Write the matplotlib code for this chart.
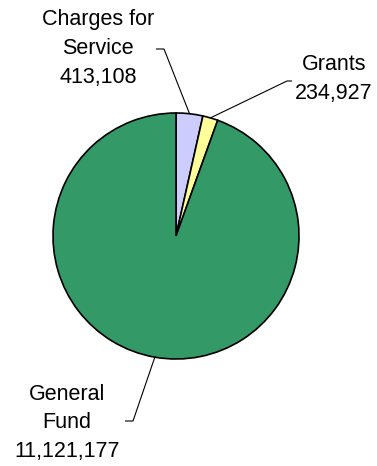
import numpy as np
import matplotlib.pyplot as plt

labels = ['Charges for\nService', 'Grants', 'General\nFund']
values = [413108, 234927, 11121177]
colors = ['#CCCCFF', '#FFFF99', '#339966']

# layout in pixels (y measured from top of image)
W, H = 377, 466
cx, cy, r = 176, 236, 123
elbows = [(164, 49), (287, 81), (133, 421)]
ends = [(156, 49), (292, 81), (125, 421)]
text_pos = [(98, 48), (334, 79), (67, 423)]


def main():
    plt.rcParams['font.family'] = ['Liberation Sans', 'DejaVu Sans']
    fig = plt.figure(figsize=(W / 100, H / 100), dpi=100)
    ax = fig.add_axes([0, 0, 1, 1])
    ax.set_xlim(0, W)
    ax.set_ylim(0, H)
    ax.axis('off')

    wedges, _ = ax.pie(values, colors=colors, startangle=90, counterclock=False,
                       center=(cx, H - cy), radius=r,
                       wedgeprops=dict(edgecolor='black', linewidth=1.2))
    ax.set_xlim(0, W)
    ax.set_ylim(0, H)

    for w, lab, val, el, en, tp in zip(wedges, labels, values, elbows, ends, text_pos):
        mid = np.deg2rad((w.theta1 + w.theta2) / 2)
        x0 = cx + r * np.cos(mid)
        y0 = (H - cy) + r * np.sin(mid)
        ax.plot([x0, el[0], en[0]], [y0, H - el[1], H - en[1]],
                color='black', lw=0.8, solid_capstyle='butt')
        ax.text(tp[0], H - tp[1], f'{lab}\n{val:,}', ha='center', va='center',
                fontsize=15.5, linespacing=1.5)

    fig.savefig('out.png', dpi=100)


if __name__ == "__main__":
    main()
